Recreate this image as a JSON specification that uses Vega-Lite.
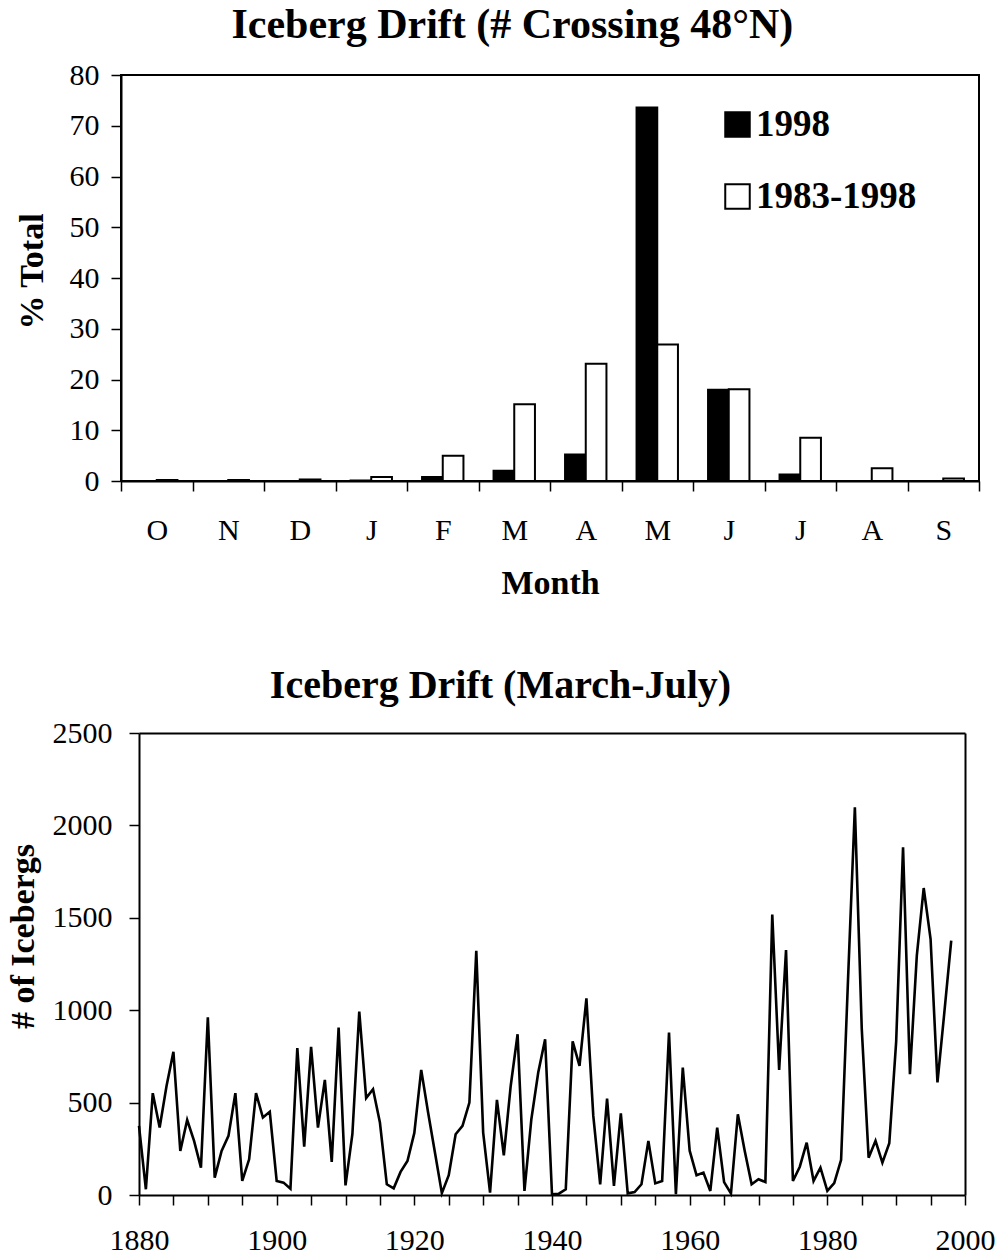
{
  "$schema": "https://vega.github.io/schema/vega-lite/v6.json",
  "padding": {"left": 6, "top": 3, "right": 5, "bottom": 5},
  "columns": 1,
  "align": "none",
  "spacing": 65,
  "config": {
    "font": "Liberation Serif",
    "view": {"stroke": "black", "strokeWidth": 2},
    "axis": {
      "domainColor": "black", "domainWidth": 2,
      "tickColor": "black", "tickWidth": 1.5, "tickSize": 10,
      "labelFont": "Liberation Serif", "labelFontSize": 30, "labelColor": "black",
      "titleFont": "Liberation Serif", "titleFontSize": 34, "titleFontWeight": "bold", "titleColor": "black",
      "grid": false
    },
    "title": {"font": "Liberation Serif", "fontSize": 40, "fontWeight": "bold", "color": "black", "frame": "bounds", "anchor": "middle", "baseline": "alphabetic"}
  },
  "datasets": {
    "months": [
      {"month": "Oct", "series": "1998", "pct": 0},
      {"month": "Oct", "series": "1983-1998", "pct": 0.2},
      {"month": "Nov", "series": "1998", "pct": 0},
      {"month": "Nov", "series": "1983-1998", "pct": 0.2},
      {"month": "Dec", "series": "1998", "pct": 0},
      {"month": "Dec", "series": "1983-1998", "pct": 0.3},
      {"month": "Jan", "series": "1998", "pct": 0.1},
      {"month": "Jan", "series": "1983-1998", "pct": 0.8},
      {"month": "Feb", "series": "1998", "pct": 0.8},
      {"month": "Feb", "series": "1983-1998", "pct": 5.0},
      {"month": "Mar", "series": "1998", "pct": 2.0},
      {"month": "Mar", "series": "1983-1998", "pct": 15.1},
      {"month": "Apr", "series": "1998", "pct": 5.2},
      {"month": "Apr", "series": "1983-1998", "pct": 23.1},
      {"month": "May", "series": "1998", "pct": 73.6},
      {"month": "May", "series": "1983-1998", "pct": 26.9},
      {"month": "Jun", "series": "1998", "pct": 18.0},
      {"month": "Jun", "series": "1983-1998", "pct": 18.1},
      {"month": "Jul", "series": "1998", "pct": 1.3},
      {"month": "Jul", "series": "1983-1998", "pct": 8.5},
      {"month": "Aug", "series": "1998", "pct": 0},
      {"month": "Aug", "series": "1983-1998", "pct": 2.5},
      {"month": "Sep", "series": "1998", "pct": 0},
      {"month": "Sep", "series": "1983-1998", "pct": 0.5}
    ],
    "drift": [
      {"year": 1880, "count": 374}, {"year": 1881, "count": 31}, {"year": 1882, "count": 551}, {"year": 1883, "count": 365},
      {"year": 1884, "count": 590}, {"year": 1885, "count": 775}, {"year": 1886, "count": 238}, {"year": 1887, "count": 406},
      {"year": 1888, "count": 293}, {"year": 1889, "count": 148}, {"year": 1890, "count": 961}, {"year": 1891, "count": 94},
      {"year": 1892, "count": 238}, {"year": 1893, "count": 320}, {"year": 1894, "count": 551}, {"year": 1895, "count": 76},
      {"year": 1896, "count": 193}, {"year": 1897, "count": 551}, {"year": 1898, "count": 419}, {"year": 1899, "count": 450},
      {"year": 1900, "count": 76}, {"year": 1901, "count": 67}, {"year": 1902, "count": 34}, {"year": 1903, "count": 795},
      {"year": 1904, "count": 262}, {"year": 1905, "count": 802}, {"year": 1906, "count": 365}, {"year": 1907, "count": 623},
      {"year": 1908, "count": 179}, {"year": 1909, "count": 906}, {"year": 1910, "count": 52}, {"year": 1911, "count": 329},
      {"year": 1912, "count": 993}, {"year": 1913, "count": 524}, {"year": 1914, "count": 572}, {"year": 1915, "count": 392},
      {"year": 1916, "count": 58}, {"year": 1917, "count": 36}, {"year": 1918, "count": 125}, {"year": 1919, "count": 184},
      {"year": 1920, "count": 336}, {"year": 1921, "count": 677}, {"year": 1922, "count": 446}, {"year": 1923, "count": 229},
      {"year": 1924, "count": 10}, {"year": 1925, "count": 107}, {"year": 1926, "count": 329}, {"year": 1927, "count": 374},
      {"year": 1928, "count": 500}, {"year": 1929, "count": 1322}, {"year": 1930, "count": 338}, {"year": 1931, "count": 13},
      {"year": 1932, "count": 515}, {"year": 1933, "count": 215}, {"year": 1934, "count": 590}, {"year": 1935, "count": 870},
      {"year": 1936, "count": 22}, {"year": 1937, "count": 410}, {"year": 1938, "count": 663}, {"year": 1939, "count": 843},
      {"year": 1940, "count": 4}, {"year": 1941, "count": 7}, {"year": 1942, "count": 31}, {"year": 1943, "count": 831},
      {"year": 1944, "count": 699}, {"year": 1945, "count": 1064}, {"year": 1946, "count": 428}, {"year": 1947, "count": 58},
      {"year": 1948, "count": 522}, {"year": 1949, "count": 49}, {"year": 1950, "count": 442}, {"year": 1951, "count": 9},
      {"year": 1952, "count": 16}, {"year": 1953, "count": 58}, {"year": 1954, "count": 293}, {"year": 1955, "count": 63},
      {"year": 1956, "count": 76}, {"year": 1957, "count": 879}, {"year": 1958, "count": 4}, {"year": 1959, "count": 690},
      {"year": 1960, "count": 240}, {"year": 1961, "count": 107}, {"year": 1962, "count": 121}, {"year": 1963, "count": 22},
      {"year": 1964, "count": 365}, {"year": 1965, "count": 70}, {"year": 1966, "count": 9}, {"year": 1967, "count": 437},
      {"year": 1968, "count": 238}, {"year": 1969, "count": 58}, {"year": 1970, "count": 85}, {"year": 1971, "count": 70},
      {"year": 1972, "count": 1517}, {"year": 1973, "count": 677}, {"year": 1974, "count": 1325}, {"year": 1975, "count": 76},
      {"year": 1976, "count": 153}, {"year": 1977, "count": 283}, {"year": 1978, "count": 76}, {"year": 1979, "count": 148},
      {"year": 1980, "count": 22}, {"year": 1981, "count": 64}, {"year": 1982, "count": 190}, {"year": 1983, "count": 1160},
      {"year": 1984, "count": 2098}, {"year": 1985, "count": 900}, {"year": 1986, "count": 202}, {"year": 1987, "count": 293},
      {"year": 1988, "count": 175}, {"year": 1989, "count": 280}, {"year": 1990, "count": 830}, {"year": 1991, "count": 1882},
      {"year": 1992, "count": 654}, {"year": 1993, "count": 1295}, {"year": 1994, "count": 1661}, {"year": 1995, "count": 1385},
      {"year": 1996, "count": 609}, {"year": 1997, "count": 988}, {"year": 1998, "count": 1376}
    ]
  },
  "concat": [
    {
      "width": 858,
      "height": 406,
      "title": {"text": "Iceberg Drift (# Crossing 48°N)", "offset": 13, "fontSize": 42, "dx": 15},
      "data": {"name": "months"},
      "mark": {"type": "bar", "stroke": "black", "strokeWidth": 2},
      "encoding": {
        "x": {
          "field": "month", "type": "nominal",
          "sort": ["Oct", "Nov", "Dec", "Jan", "Feb", "Mar", "Apr", "May", "Jun", "Jul", "Aug", "Sep"],
          "scale": {"paddingInner": 0, "paddingOuter": 0},
          "axis": {"title": "Month", "labelAngle": 0, "labelExpr": "substring(datum.label, 0, 1)", "tickBand": "extent", "labelPadding": 24, "titlePadding": 21}
        },
        "xOffset": {
          "field": "series", "type": "nominal", "sort": ["1998", "1983-1998"],
          "scale": {"paddingInner": 0, "paddingOuter": 0.727}
        },
        "y": {
          "field": "pct", "type": "quantitative",
          "scale": {"domain": [0, 80], "nice": false},
          "axis": {"title": "% Total", "values": [0, 10, 20, 30, 40, 50, 60, 70, 80], "labelPadding": 12, "titleX": -79, "titleY": 196, "titleBaseline": "alphabetic", "titleAngle": -90, "titleAlign": "center"}
        },
        "fill": {
          "field": "series", "type": "nominal", "sort": ["1998", "1983-1998"],
          "scale": {"range": ["black", "white"]},
          "legend": {
            "orient": "none", "legendX": 598, "legendY": 31, "title": null, "padding": 0,
            "symbolType": "square", "symbolSize": 600, "symbolStrokeColor": "black", "symbolStrokeWidth": 2,
            "labelFont": "Liberation Serif", "labelFontSize": 37, "labelFontWeight": "bold", "labelColor": "black",
            "labelOffset": 0, "rowPadding": 34, "labelLimit": 0
          }
        }
      }
    },
    {
      "width": 844,
      "height": 462,
      "view": {"stroke": null},
      "title": {"text": "Iceberg Drift (March-July)", "offset": 12},
      "data": {"name": "drift"},
      "layer": [
        {
          "mark": {"type": "line", "color": "black", "strokeWidth": 2.6},
          "encoding": {
            "x": {
              "field": "year", "type": "quantitative",
              "scale": {"domain": [1880, 2000], "nice": false, "zero": false, "range": [18, 844]},
              "axis": {
                "title": null, "format": "d",
                "values": [1880, 1885, 1890, 1895, 1900, 1905, 1910, 1915, 1920, 1925, 1930, 1935, 1940, 1945, 1950, 1955, 1960, 1965, 1970, 1975, 1980, 1985, 1990, 1995, 2000],
                "labelExpr": "datum.value % 20 == 0 ? datum.label : ''",
                "labelOverlap": false, "labelFlush": false, "labelPadding": 20
              }
            },
            "y": {
              "field": "count", "type": "quantitative",
              "scale": {"domain": [0, 2500], "nice": false},
              "axis": {"title": "# of Icebergs", "format": "d", "offset": -18, "values": [0, 500, 1000, 1500, 2000, 2500], "labelPadding": 17, "titleX": -106, "titleY": 203, "titleBaseline": "alphabetic", "titleAngle": -90, "titleAlign": "center"}
            }
          }
        },
        {
          "mark": {"type": "line", "opacity": 0},
          "encoding": {
            "x": {"field": "year", "type": "quantitative", "axis": {"orient": "top", "labels": false, "ticks": false, "title": null, "domain": true}},
            "y": {"field": "count", "type": "quantitative", "axis": {"orient": "right", "labels": false, "ticks": false, "title": null, "domain": true}}
          }
        }
      ],
      "resolve": {"axis": {"x": "independent", "y": "independent"}}
    }
  ]
}
